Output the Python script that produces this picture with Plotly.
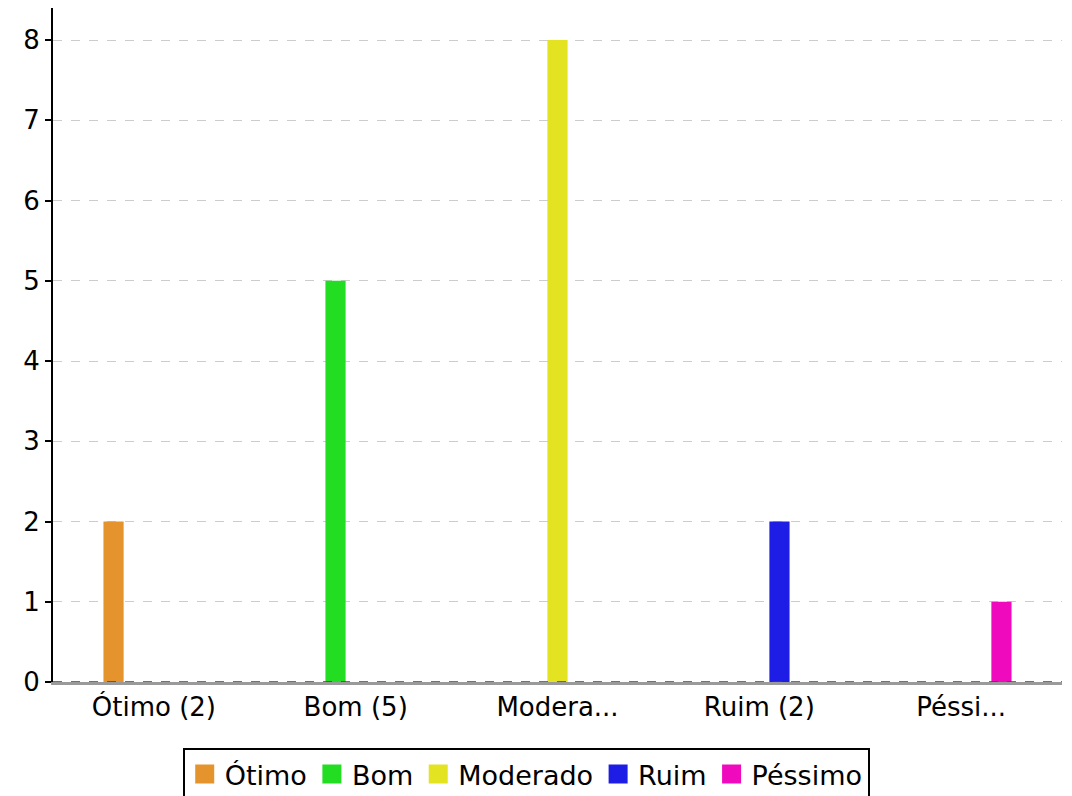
import plotly.graph_objects as go

categories = ["Ótimo", "Bom", "Moderado", "Ruim", "Péssimo"]
tick_labels = ["Ótimo (2)", "Bom (5)", "Modera...", "Ruim (2)", "Péssi..."]
counts = [2, 5, 8, 2, 1]
colors = ["#E5932D", "#22DD22", "#E3E322", "#1D1DE6", "#F00ABE"]

fig = go.Figure()
for i, (name, val, col) in enumerate(zip(categories, counts, colors)):
    yvals = [val if j == i else None for j in range(len(categories))]
    fig.add_trace(go.Bar(
        x=categories, y=yvals, name=name, showlegend=False,
        marker=dict(color=col, line=dict(width=0)),
    ))
# legend entries with larger square swatches
for name, col in zip(categories, colors):
    fig.add_trace(go.Scatter(
        x=[None], y=[None], mode="markers", name=name,
        marker=dict(symbol="square", size=16, color=col, line=dict(color=col, width=3)),
    ))

fig.update_layout(
    width=1072, height=796,
    margin=dict(l=45, r=18, t=0, b=122, autoexpand=False),
    paper_bgcolor="white", plot_bgcolor="white",
    barmode="group", bargap=0.5, bargroupgap=0,
    font=dict(family="DejaVu Sans", size=26, color="black"),
    showlegend=True,
    legend=dict(
        orientation="h", x=0.469, xanchor="center", y=-0.098, yanchor="top",
        bordercolor="black", borderwidth=2,
        font=dict(family="DejaVu Sans", size=27),
        itemsizing="trace", traceorder="normal", itemwidth=30,
    ),
    xaxis=dict(
        type="category", tickmode="array", tickvals=categories, ticktext=tick_labels,
        showgrid=False, showline=True, linecolor="#9a9a9a", linewidth=3,
        ticks="", tickfont=dict(size=26), zeroline=False, automargin=False,
    ),
    yaxis=dict(
        range=[0, 8.4], dtick=1, showgrid=True, gridcolor="#cccccc", griddash="dash",
        gridwidth=1, showline=True, linecolor="black", linewidth=2,
        ticks="outside", ticklen=6, tickcolor="black", tickwidth=2,
        zeroline=False, tickfont=dict(size=26), automargin=False,
    ),
)
fig.add_shape(type="line", xref="paper", yref="y", x0=0, x1=1, y0=0, y1=0,
              line=dict(color="#444444", width=1.5, dash="dash"))

fig.write_html("out.html")
